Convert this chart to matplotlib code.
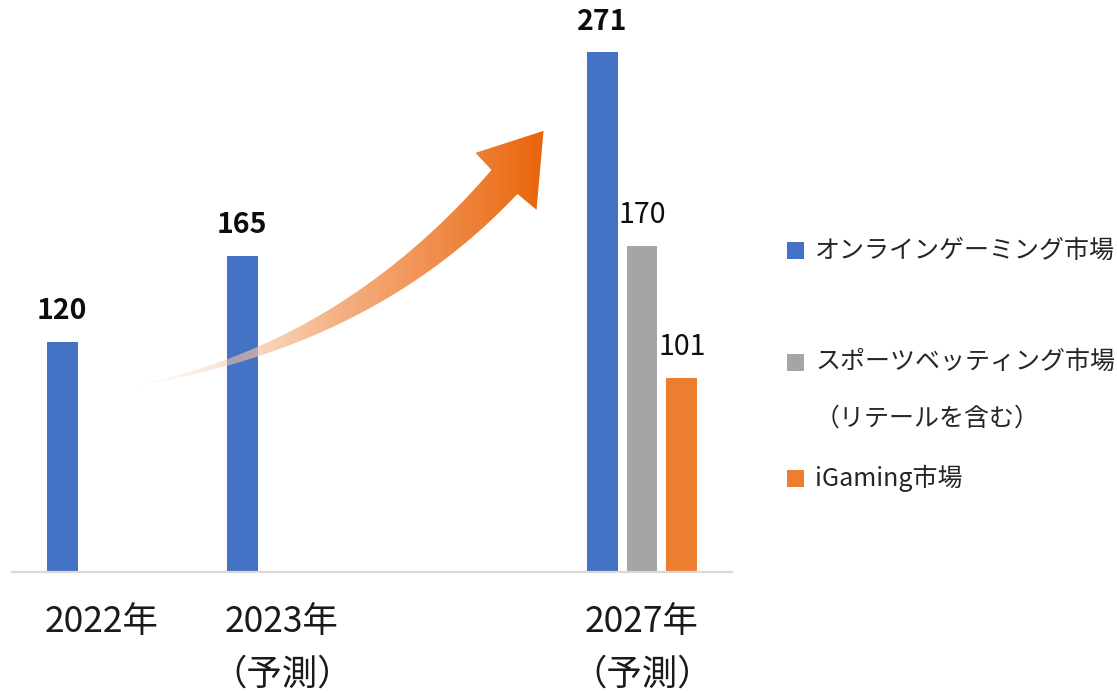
import numpy as np
import matplotlib
matplotlib.use("Agg")
import matplotlib.pyplot as plt
from matplotlib.patches import Polygon, Rectangle

plt.rcParams['font.family'] = ['Noto Sans CJK JP', 'DejaVu Sans']

# ---- data ----
categories = ["2022年", "2023年\n（予測）", "", "2027年\n（予測）"]
online = [120, 165, np.nan, 271]
sports = [np.nan, np.nan, np.nan, 170]
igaming = [np.nan, np.nan, np.nan, 101]
series_names = ["オンラインゲーミング市場", "スポーツベッティング市場\n（リテールを含む）", "iGaming市場"]
colors = ["#4472c4", "#a5a5a5", "#ed7d31"]

W, H = 1117, 693
fig = plt.figure(figsize=(W / 100, H / 100), dpi=100)
ax = fig.add_axes([12 / W, 121 / H, 720 / W, 556 / H])

x = np.arange(len(categories))
width = 0.172
offsets = [-0.222, 0.0, 0.222]
bold_flags = [True, False, False]
for vals, off, col, bold in zip([online, sports, igaming], offsets, colors, bold_flags):
    bars = ax.bar(x + off, vals, width, color=col, zorder=2)
    for rect, v in zip(bars, vals):
        if np.isnan(v):
            continue
        ax.annotate(f"{v:.0f}", (rect.get_x() + rect.get_width() / 2, v),
                    xytext=(0, 16.5), textcoords='offset points',
                    ha='center', va='baseline', fontsize=20.5,
                    fontweight='bold' if bold else 'normal', color='#0d0d0d')

ax.set_xlim(-0.5, 3.5)
ax.set_ylim(0, 290)
for s in ['top', 'right', 'left']:
    ax.spines[s].set_visible(False)
ax.spines['bottom'].set_color('#d9d9d9')
ax.spines['bottom'].set_linewidth(1.6)
ax.set_yticks([])
ax.set_xticks(x, categories)
ax.tick_params(axis='x', length=0, pad=23, labelsize=25.5, labelcolor='#1a1a1a')
for lab in ax.get_xticklabels():
    lab.set_linespacing(1.6)

# ---- curved gradient arrow (decoration) ----
def bez(p0, c, p2, n=80):
    t = np.linspace(0, 1, n)[:, None]
    return (1 - t) ** 2 * np.array(p0) + 2 * t * (1 - t) * np.array(c) + t ** 2 * np.array(p2)

tail = (0.165, 97.0)
upper_ctrl = (1.325, 118.4)
lower_ctrl = (1.492, 116.0)
left_notch = (2.164, 209.7)
left_barb = (2.075, 218.6)
tip = (2.453, 230.1)
right_barb = (2.414, 188.9)
right_notch = (2.308, 197.2)

upper = bez(tail, upper_ctrl, left_notch)
lower = bez(tail, lower_ctrl, right_notch)[::-1]
pts = np.vstack([upper, [left_barb, tip, right_barb], lower])
poly = Polygon(pts, closed=True, facecolor='none', edgecolor='none', transform=ax.transData)
ax.add_patch(poly)

x0, x1, y0, y1 = 0.15, 2.48, 90, 235
nx = 400
xs = np.linspace(x0, x1, nx)
u = np.clip((xs - tail[0]) / (tip[0] - tail[0]), 0, 1)
stops_u = [0.0, 0.5, 0.85, 1.0]
stops_c = np.array([[250, 222, 202], [244, 177, 131], [237, 125, 49], [232, 101, 10]]) / 255.0
rgb = np.stack([np.interp(u, stops_u, stops_c[:, k]) for k in range(3)], axis=1)
alpha = np.clip(u / 0.5, 0, 1) ** 0.8
img_row = np.concatenate([rgb, alpha[:, None]], axis=1)
img = np.repeat(img_row[None, :, :], 10, axis=0)
im = ax.imshow(img, extent=[x0, x1, y0, y1], aspect='auto', origin='lower',
               interpolation='bilinear', zorder=3)
im.set_clip_path(poly)
ax.set_xlim(-0.5, 3.5)
ax.set_ylim(0, 290)

# ---- legend (manual layout) ----
legend_y_px = [251, 362, 478]
line_step_px = 57
for name, col, ypx in zip(series_names, colors, legend_y_px):
    fig.add_artist(Rectangle((787 / W, 1 - (ypx + 8.5) / H), 17 / W, 17 / H,
                             transform=fig.transFigure, facecolor=col, edgecolor='none'))
    for i, line in enumerate(name.split("\n")):
        fig.text(815 / W, 1 - (ypx + i * line_step_px) / H, line, fontsize=18,
                 color='#262626', ha='left', va='center')

fig.savefig("out.png", dpi=100)
